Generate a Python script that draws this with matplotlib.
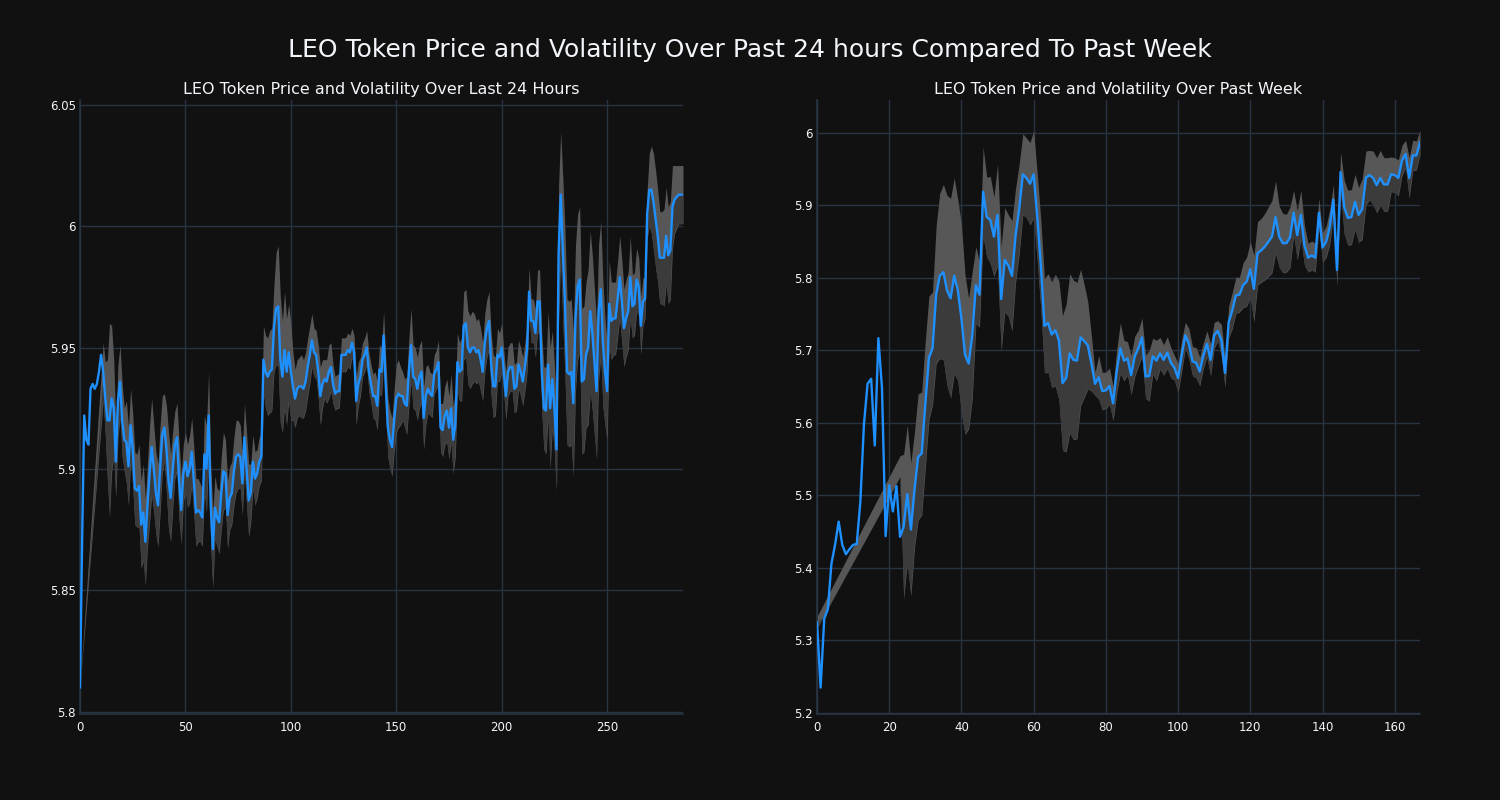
import numpy as np
import matplotlib
matplotlib.use("Agg")
import matplotlib.pyplot as plt
from matplotlib.ticker import FuncFormatter, MultipleLocator
from matplotlib.path import Path

nan = np.nan

# ---------------- data: last 24 hours (5-minute steps) ----------------
day_price = [
    5.810, 5.870, 5.922, 5.912, 5.910, 5.933, 5.935, 5.933, 5.935, 5.940,
    5.947, 5.940, 5.929, 5.920, 5.920, 5.929, 5.925, 5.903, 5.928, 5.936,
    5.920, 5.912, 5.911, 5.901, 5.918, 5.908, 5.892, 5.891, 5.893, 5.877,
    5.882, 5.870, 5.885, 5.898, 5.909, 5.900, 5.890, 5.885, 5.900, 5.914,
    5.917, 5.908, 5.895, 5.888, 5.900, 5.910, 5.913, 5.895, 5.883, 5.898,
    5.903, 5.897, 5.900, 5.907, 5.895, 5.882, 5.883, 5.882, 5.880, 5.906,
    5.900, 5.922, 5.885, 5.867, 5.884, 5.880, 5.878, 5.890, 5.899, 5.898,
    5.881, 5.888, 5.890, 5.899, 5.905, 5.906, 5.905, 5.894, 5.913, 5.900,
    5.887, 5.890, 5.903, 5.896, 5.898, 5.903, 5.905, 5.945, 5.940, 5.938,
    5.940, 5.941, 5.958, 5.966, 5.967, 5.945, 5.938, 5.949, 5.940, 5.948,
    5.940, 5.934, 5.929, 5.933, 5.934, 5.934, 5.933, 5.936, 5.942, 5.947,
    5.953, 5.948, 5.947, 5.940, 5.930, 5.935, 5.937, 5.936, 5.940, 5.942,
    5.935, 5.931, 5.932, 5.932, 5.947, 5.947, 5.947, 5.949, 5.948, 5.952,
    5.948, 5.928, 5.935, 5.938, 5.945, 5.947, 5.950, 5.940, 5.935, 5.930,
    5.930, 5.926, 5.941, 5.940, 5.955, 5.935, 5.917, 5.912, 5.909, 5.920,
    5.929, 5.931, 5.930, 5.930, 5.927, 5.926, 5.940, 5.951, 5.938, 5.937,
    5.933, 5.938, 5.940, 5.921, 5.930, 5.933, 5.931, 5.930, 5.939, 5.941,
    5.944, 5.917, 5.916, 5.922, 5.924, 5.917, 5.925, 5.912, 5.918, 5.944,
    5.940, 5.941, 5.959, 5.960, 5.950, 5.948, 5.950, 5.950, 5.948, 5.949,
    5.945, 5.940, 5.952, 5.958, 5.961, 5.943, 5.934, 5.934, 5.947, 5.946,
    5.950, 5.940, 5.930, 5.940, 5.942, 5.942, 5.933, 5.934, 5.943, 5.940,
    5.936, 5.942, 5.949, 5.973, 5.961, 5.961, 5.956, 5.969, 5.969, 5.940,
    5.925, 5.924, 5.943, 5.925, 5.937, 5.925, 5.908, 5.989, 6.013, 5.990,
    5.969, 5.940, 5.939, 5.940, 5.927, 5.962, 5.975, 5.978, 5.936, 5.937,
    5.947, 5.950, 5.965, 5.956, 5.944, 5.932, 5.965, 5.974, 5.952, 5.940,
    5.932, 5.968, 5.961, 5.962, 5.962, 5.970, 5.979, 5.969, 5.958, 5.962,
    5.965, 5.979, 5.967, 5.968, 5.978, 5.975, 5.959, 5.969, 5.970, 6.005,
    6.015, 6.015, 6.010, 6.003, 5.996, 5.987, 5.987, 5.987, 5.996, 5.988,
    5.990, 6.008, 6.011, 6.012, 6.013, 6.013, 6.013,
]

# volatility (half width of the shaded band), nan where no value
day_vol = [
    0.000, nan, nan, nan, nan, nan, nan, nan, nan, nan,
    nan, 0.012, 0.015, 0.025, 0.040, 0.030, 0.020, 0.015, 0.015, 0.015,
    0.015, 0.013, 0.017, 0.016, 0.015, 0.015, 0.015, 0.015, 0.017, 0.018,
    0.020, 0.018, 0.017, 0.020, 0.020, 0.018, 0.017, 0.017, 0.018, 0.016,
    0.014, 0.018, 0.020, 0.018, 0.016, 0.014, 0.014, 0.016, 0.014, 0.012,
    0.012, 0.013, 0.014, 0.014, 0.014, 0.014, 0.013, 0.012, 0.012, 0.016,
    0.018, 0.018, 0.017, 0.016, 0.013, 0.012, 0.013, 0.015, 0.016, 0.014,
    0.014, 0.013, 0.013, 0.014, 0.015, 0.014, 0.013, 0.013, 0.014, 0.015,
    0.015, 0.012, 0.011, 0.011, 0.010, 0.010, 0.010, 0.014, 0.015, 0.016,
    0.017, 0.017, 0.018, 0.023, 0.025, 0.026, 0.023, 0.024, 0.022, 0.020,
    0.020, 0.014, 0.012, 0.012, 0.012, 0.013, 0.012, 0.012, 0.012, 0.012,
    0.011, 0.010, 0.010, 0.011, 0.012, 0.010, 0.008, 0.009, 0.011, 0.010,
    0.008, 0.007, 0.007, 0.007, 0.007, 0.007, 0.007, 0.007, 0.007, 0.006,
    0.007, 0.010, 0.009, 0.008, 0.007, 0.007, 0.007, 0.008, 0.008, 0.009,
    0.010, 0.010, 0.010, 0.010, 0.010, 0.011, 0.012, 0.012, 0.012, 0.013,
    0.014, 0.014, 0.012, 0.010, 0.010, 0.012, 0.014, 0.015, 0.013, 0.013,
    0.013, 0.013, 0.013, 0.013, 0.012, 0.010, 0.009, 0.009, 0.008, 0.008,
    0.009, 0.010, 0.011, 0.012, 0.013, 0.013, 0.014, 0.014, 0.013, 0.012,
    0.012, 0.013, 0.014, 0.014, 0.015, 0.015, 0.015, 0.014, 0.013, 0.013,
    0.013, 0.012, 0.012, 0.012, 0.012, 0.013, 0.013, 0.012, 0.011, 0.010,
    0.010, 0.009, 0.010, 0.010, 0.010, 0.010, 0.010, 0.010, 0.010, 0.010,
    0.010, 0.010, 0.010, 0.010, 0.009, 0.009, 0.010, 0.013, 0.013, 0.016,
    0.017, 0.018, 0.022, 0.025, 0.020, 0.018, 0.017, 0.028, 0.026, 0.030,
    0.030, 0.030, 0.030, 0.030, 0.030, 0.030, 0.030, 0.030, 0.030, 0.030,
    0.030, 0.032, 0.033, 0.032, 0.030, 0.028, 0.028, 0.028, 0.026, 0.022,
    0.020, 0.018, 0.016, 0.015, 0.015, 0.016, 0.017, 0.017, 0.016, 0.016,
    0.016, 0.017, 0.013, 0.013, 0.013, 0.012, 0.012, 0.010, 0.008, 0.010,
    0.015, 0.018, 0.020, 0.020, 0.019, 0.019, 0.019, 0.020, 0.020, 0.020,
    0.020, 0.017, 0.014, 0.013, 0.012, 0.012, 0.012,
]
day_band_fix_x = []
day_band_fix_low = []
day_band_fix_high = []

# ---------------- data: past week (hourly steps) ----------------
week_price = [
    5.325, 5.235, 5.330, 5.343, 5.406, 5.432, 5.464, 5.432, 5.419, 5.426,
    5.432, 5.433, 5.491, 5.598, 5.654, 5.661, 5.569, 5.717, 5.648, 5.444,
    5.514, 5.478, 5.513, 5.443, 5.457, 5.502, 5.453, 5.508, 5.553, 5.558,
    5.626, 5.690, 5.703, 5.777, 5.803, 5.808, 5.783, 5.772, 5.803, 5.783,
    5.744, 5.694, 5.682, 5.721, 5.790, 5.777, 5.919, 5.884, 5.880, 5.857,
    5.887, 5.771, 5.825, 5.817, 5.803, 5.859, 5.895, 5.943, 5.938, 5.930,
    5.943, 5.884, 5.817, 5.734, 5.738, 5.722, 5.728, 5.714, 5.655, 5.662,
    5.696, 5.687, 5.686, 5.718, 5.713, 5.707, 5.682, 5.654, 5.663, 5.644,
    5.645, 5.651, 5.627, 5.671, 5.703, 5.686, 5.689, 5.666, 5.692, 5.703,
    5.718, 5.664, 5.665, 5.692, 5.686, 5.696, 5.687, 5.697, 5.683, 5.676,
    5.662, 5.693, 5.721, 5.709, 5.685, 5.683, 5.671, 5.693, 5.709, 5.687,
    5.721, 5.727, 5.714, 5.669, 5.739, 5.755, 5.776, 5.777, 5.790, 5.795,
    5.812, 5.785, 5.834, 5.838, 5.843, 5.850, 5.857, 5.884, 5.857, 5.848,
    5.848, 5.856, 5.890, 5.859, 5.887, 5.845, 5.828, 5.831, 5.828, 5.890,
    5.842, 5.850, 5.870, 5.908, 5.811, 5.946, 5.898, 5.883, 5.884, 5.905,
    5.887, 5.895, 5.938, 5.942, 5.938, 5.928, 5.938, 5.929, 5.929, 5.943,
    5.942, 5.938, 5.962, 5.971, 5.938, 5.969, 5.969, 5.987,
]

week_vol = [
    0.008, nan, nan, nan, nan, nan, nan, nan, nan, nan,
    nan, nan, nan, nan, nan, nan, nan, nan, nan, nan,
    nan, nan, nan, nan, 0.100, 0.095, 0.092, 0.080, 0.087, 0.085,
    0.088, 0.085, 0.078, 0.095, 0.114, 0.121, 0.131, 0.138, 0.135, 0.125,
    0.130, 0.110, 0.090, 0.088, 0.053, 0.045, 0.062, 0.055, 0.060, 0.055,
    0.070, 0.072, 0.072, 0.070, 0.076, 0.065, 0.062, 0.056, 0.055, 0.057,
    0.060, 0.060, 0.062, 0.065, 0.068, 0.073, 0.077, 0.082, 0.093, 0.102,
    0.110, 0.110, 0.108, 0.094, 0.078, 0.060, 0.038, 0.016, 0.030, 0.026,
    0.025, 0.025, 0.024, 0.030, 0.035, 0.028, 0.023, 0.027, 0.028, 0.025,
    0.027, 0.030, 0.035, 0.025, 0.028, 0.022, 0.021, 0.022, 0.021, 0.017,
    0.020, 0.022, 0.018, 0.021, 0.020, 0.021, 0.020, 0.018, 0.018, 0.022,
    0.018, 0.014, 0.022, 0.020, 0.022, 0.025, 0.025, 0.024, 0.031, 0.034,
    0.038, 0.046, 0.044, 0.044, 0.046, 0.048, 0.050, 0.050, 0.042, 0.041,
    0.040, 0.042, 0.031, 0.034, 0.034, 0.027, 0.020, 0.020, 0.020, 0.020,
    0.020, 0.022, 0.024, 0.021, 0.022, 0.028, 0.037, 0.038, 0.038, 0.038,
    0.038, 0.042, 0.037, 0.034, 0.037, 0.038, 0.038, 0.037, 0.037, 0.024,
    0.024, 0.025, 0.021, 0.019, 0.028, 0.021, 0.020, 0.017,
]
# band end point of the early ramp, read directly (not centred on the line)
week_band_fix_x = [23]
week_band_fix_low = [5.526]
week_band_fix_high = [5.555]

suptitle = "LEO Token Price and Volatility Over Past 24 hours Compared To Past Week"
titles = ["LEO Token Price and Volatility Over Last 24 Hours",
          "LEO Token Price and Volatility Over Past Week"]
x_steps = [50, 20]
y_steps = [0.05, 0.1]
ylims = [(5.799, 6.052), (5.1986, 6.0455)]

BG = "#111111"
GRID = "#283442"
TXT = "#f2f5fa"
LINE = "#1e90ff"
BAND_FILL = "#575757"
LOWER_FILL = "#3b3b3b"

fig = plt.figure(figsize=(15, 8), dpi=100, facecolor=BG)
axes = fig.subplots(1, 2)
fig.subplots_adjust(left=80/1500, right=1420/1500, bottom=1-714/800, top=1-100/800,
                    wspace=134/603)

fmt = FuncFormatter(lambda v, p: "{:g}".format(round(v, 4)))

datasets = [
    (day_price, day_vol, day_band_fix_x, day_band_fix_low, day_band_fix_high),
    (week_price, week_vol, week_band_fix_x, week_band_fix_low, week_band_fix_high),
]

for ax, (price, vol, fx, flo, fhi), title, xs, ys, yl in zip(
        axes, datasets, titles, x_steps, y_steps, ylims):
    price = np.asarray(price, dtype=float)
    vol = np.asarray(vol, dtype=float)
    assert len(price) == len(vol)
    x = np.arange(len(price))
    low = price - vol
    high = price + vol
    for i, lo, hi in zip(fx, flo, fhi):
        low[i] = lo
        high[i] = hi
    ok = ~np.isnan(low)
    ax.set_facecolor(BG)
    band = ax.fill_between(x[ok], low[ok], high[ok], color=BAND_FILL, lw=0, zorder=2)
    lower = ax.fill_between(x[ok], low[ok], price[ok], color=LOWER_FILL, lw=0, zorder=2.1)
    clip = Path.make_compound_path(*band.get_paths())
    lower.set_clip_path(clip, ax.transData)
    ax.plot(x, price, color=LINE, lw=1.7, zorder=3)
    ax.set_xlim(0, len(price) - 1)
    ax.set_ylim(*yl)
    ax.xaxis.set_major_locator(MultipleLocator(xs))
    ax.yaxis.set_major_locator(MultipleLocator(ys))
    ax.yaxis.set_major_formatter(fmt)
    ax.grid(True, color=GRID, lw=1.0, zorder=0)
    ax.set_axisbelow(True)
    for side in ["top", "right"]:
        ax.spines[side].set_visible(False)
    for side in ["left", "bottom"]:
        ax.spines[side].set_color(GRID)
        ax.spines[side].set_linewidth(1.2)
    ax.tick_params(length=0, labelsize=8.5, colors=TXT)
    ax.tick_params(axis="y", pad=3)
    ax.tick_params(axis="x", pad=5)
    ax.set_title(title, color=TXT, fontsize=11.5, pad=4)

fig.suptitle(suptitle, color=TXT, fontsize=18, y=1-50/800, va="center")
fig.savefig("out.png", dpi=100, facecolor=BG)
